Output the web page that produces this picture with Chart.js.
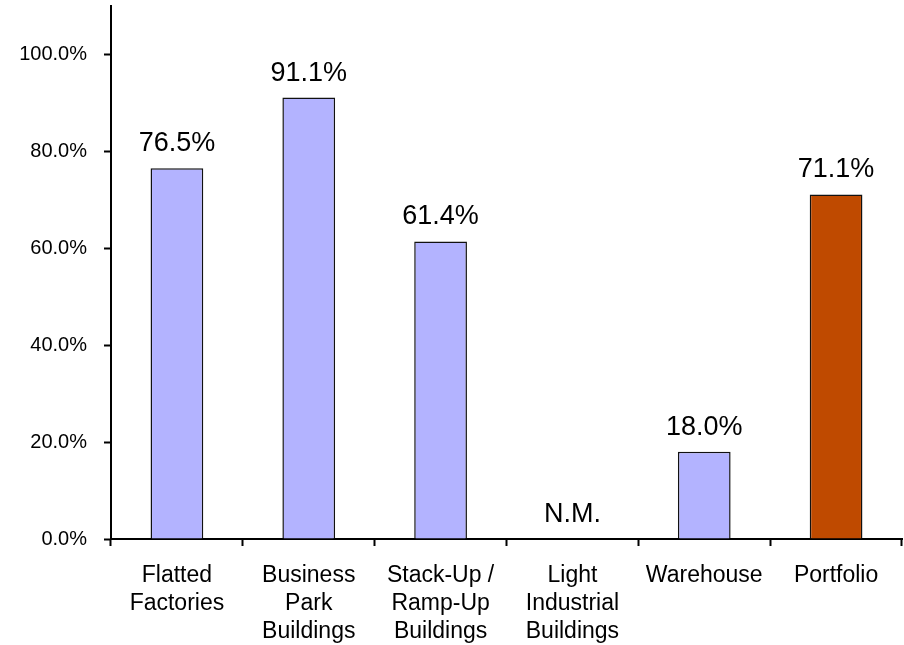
<!DOCTYPE html>
<html>
<head>
<meta charset="utf-8">
<script src="https://cdn.jsdelivr.net/npm/chart.js@4.4.0/dist/chart.umd.min.js"></script>
<style>
  html, body { margin: 0; padding: 0; background: #fff; }
  #wrap { width: 904px; height: 645px; position: relative; }
</style>
</head>
<body>
<div id="wrap"><canvas id="c" width="904" height="645"></canvas></div>
<script>
const categories = [
  ["Flatted", "Factories"],
  ["Business", "Park", "Buildings"],
  ["Stack-Up /", "Ramp-Up", "Buildings"],
  ["Light", "Industrial", "Buildings"],
  ["Warehouse"],
  ["Portfolio"]
];
const occupancyValues = [76.5, 91.1, 61.4, null, 18.0, 71.1];
const valueLabels = ["76.5%", "91.1%", "61.4%", "N.M.", "18.0%", "71.1%"];
const yTickValues = [0, 20, 40, 60, 80, 100];

const LAVENDER = '#B3B3FF';
const ORANGE = '#BF4A00';

const dataLabelPlugin = {
  id: 'dataLabels',
  afterDatasetsDraw(chart) {
    const ctx = chart.ctx;
    const meta = chart.getDatasetMeta(0);
    const yScale = chart.scales.y;
    ctx.save();
    ctx.font = '27px "Liberation Sans", Arial, sans-serif';
    ctx.fillStyle = '#000';
    ctx.textAlign = 'center';
    ctx.textBaseline = 'alphabetic';
    meta.data.forEach((bar, i) => {
      const v = occupancyValues[i];
      const top = (v === null) ? yScale.getPixelForValue(0) : bar.y;
      ctx.fillText(valueLabels[i], bar.x, top - 17);
    });
    ctx.restore();
  }
};

new Chart(document.getElementById('c'), {
  type: 'bar',
  data: {
    labels: categories,
    datasets: [{
      data: occupancyValues,
      backgroundColor: (c) => (categories[c.dataIndex][0] === 'Portfolio' ? ORANGE : LAVENDER),
      borderColor: '#111',
      borderWidth: 1.5,
      borderSkipped: 'bottom',
      categoryPercentage: 0.4,
      barPercentage: 1.0
    }]
  },
  options: {
    responsive: false,
    animation: false,
    events: [],
    layout: { padding: { top: 6, right: 2, left: 0, bottom: 0 } },
    plugins: {
      legend: { display: false },
      tooltip: { enabled: false }
    },
    scales: {
      x: {
        grid: {
          display: true,
          drawOnChartArea: false,
          drawTicks: true,
          tickLength: 7,
          tickWidth: 2,
          color: '#000',
          offset: true
        },
        border: { display: true, color: '#000', width: 2 },
        ticks: {
          color: '#000',
          font: { family: '"Liberation Sans", Arial, sans-serif', size: 23, lineHeight: 1.22 },
          padding: 16,
          maxRotation: 0,
          autoSkip: false
        },
        afterFit(scale) { scale.height = 106; scale.paddingLeft = 0; scale.paddingRight = 0; }
      },
      y: {
        min: 0,
        max: 110,
        grid: {
          display: true,
          drawOnChartArea: false,
          drawTicks: true,
          tickLength: 7,
          tickWidth: 2,
          color: '#000'
        },
        border: { display: true, color: '#000', width: 2 },
        afterBuildTicks(scale) {
          scale.ticks = yTickValues.map(v => ({ value: v }));
        },
        ticks: {
          color: '#000',
          font: { family: '"Liberation Sans", Arial, sans-serif', size: 20 },
          padding: 17,
          callback: (v) => Number(v).toFixed(1) + '%'
        },
        afterFit(scale) { scale.width = 111; scale.paddingTop = 0; scale.paddingBottom = 0; }
      }
    }
  },
  plugins: [dataLabelPlugin]
});
</script>
</body>
</html>
